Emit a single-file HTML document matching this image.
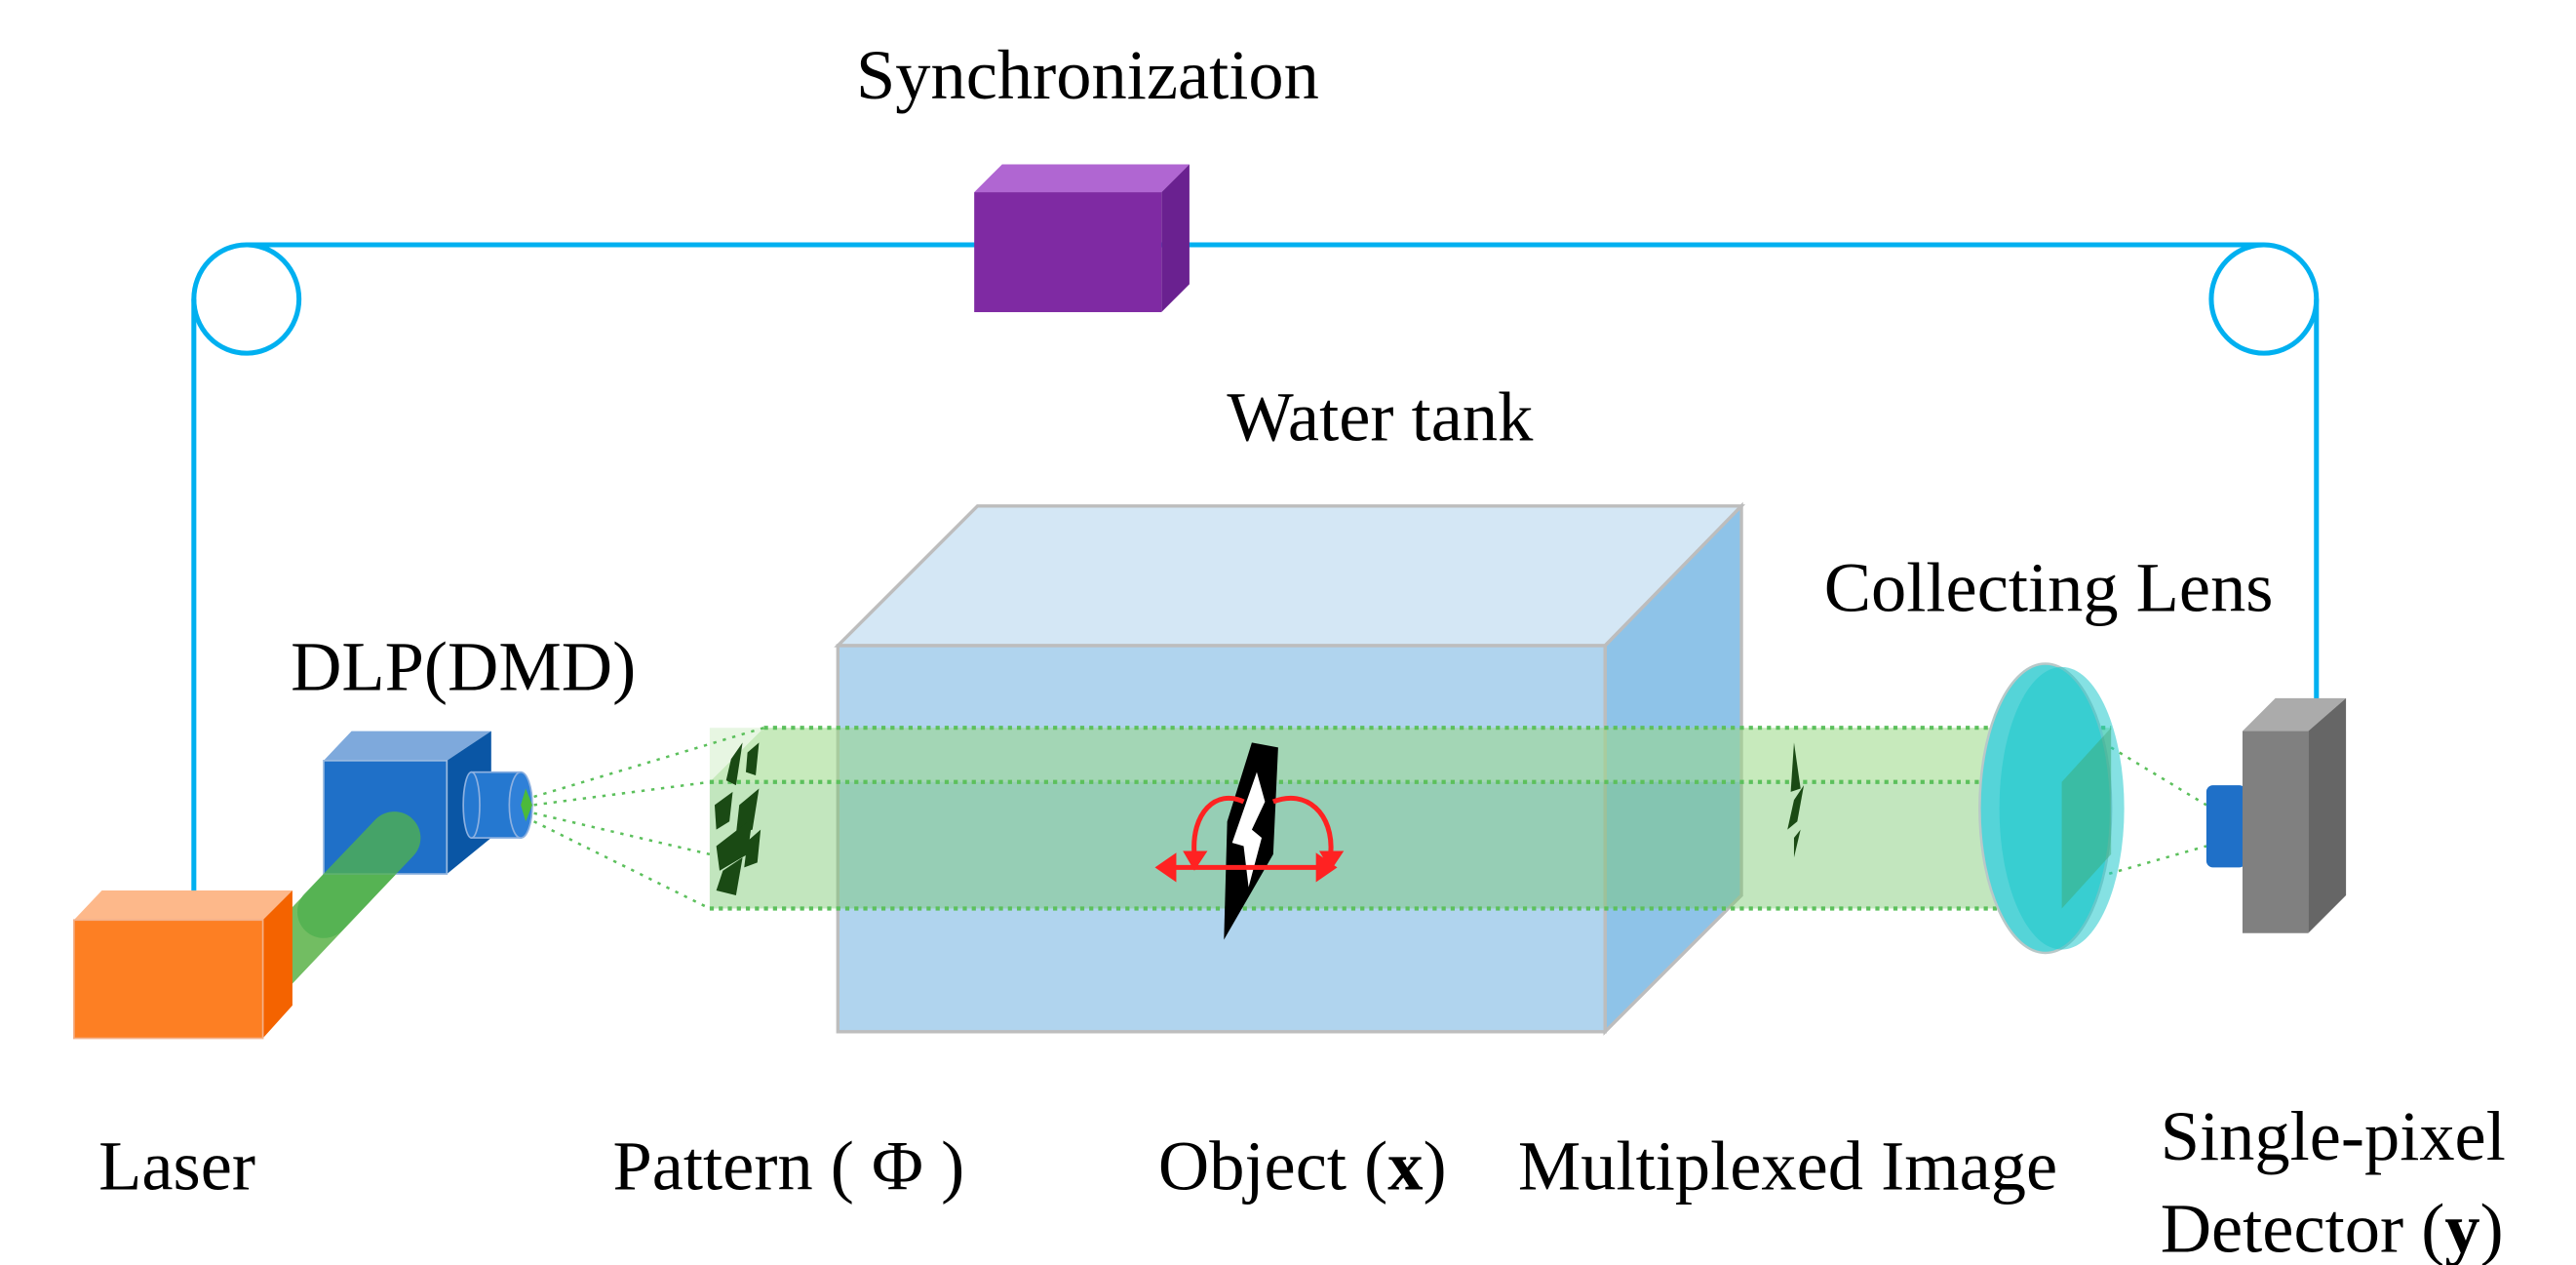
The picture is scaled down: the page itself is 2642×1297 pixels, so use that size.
<!DOCTYPE html>
<html><head><meta charset="utf-8"><style>html,body{margin:0;padding:0;background:#fff}svg{display:block}</style></head>
<body>
<svg width="2642" height="1297" viewBox="0 0 1568 770" preserveAspectRatio="none" xmlns="http://www.w3.org/2000/svg" font-family="Liberation Serif, serif" font-size="43" fill="#000">
<!-- sync wiring -->
<g stroke="#00b0f0" stroke-width="3" fill="none">
<line x1="150" y1="149" x2="1378" y2="149"/>
<ellipse cx="150" cy="182" rx="32" ry="33"/>
<ellipse cx="1378" cy="182" rx="32" ry="33"/>
<line x1="118" y1="182" x2="118" y2="545"/>
<line x1="1410" y1="182" x2="1410" y2="427"/>
</g>
<text x="662" y="60" text-anchor="middle">Synchronization</text>
<!-- purple box -->
<polygon points="593,117 610,100 724,100 707,117" fill="#b066d2"/>
<polygon points="707,117 724,100 724,173 707,190" fill="#6a2190"/>
<rect x="593" y="117" width="114" height="73" fill="#7f2aa3"/>
<text x="840" y="268" text-anchor="middle">Water tank</text>
<!-- tank -->
<polygon points="510,393 595,308 1060,308 977,393" fill="#d4e7f5" stroke="#bdbdbd" stroke-width="2"/>
<polygon points="977,393 1060,308 1060,545 977,628" fill="#8ec3e8" stroke="#bdbdbd" stroke-width="2"/>
<rect x="510" y="393" width="467" height="235" fill="#b0d4ee" stroke="#bdbdbd" stroke-width="2"/>
<!-- beam -->
<polygon points="432,476 465,443 1285,443 1255,476" fill="rgba(150,215,130,0.4)"/>
<rect x="432" y="476" width="823" height="77" fill="rgba(120,200,110,0.45)"/>
<polygon points="432,443 1285,443 1285,476 432,476" fill="rgba(160,220,140,0.25)"/>
<g stroke="#5cc05c" stroke-width="2.5" stroke-dasharray="2.5,3" fill="none">
<line x1="465" y1="443" x2="1285" y2="443"/>
<line x1="432" y1="476" x2="1255" y2="476"/>
<line x1="432" y1="553" x2="1255" y2="553"/>
</g>
<g stroke="#5cc05c" stroke-width="1.5" stroke-dasharray="2,4" fill="none">
<line x1="325" y1="485" x2="465" y2="443"/>
<line x1="325" y1="490" x2="432" y2="476"/>
<line x1="325" y1="495" x2="432" y2="520"/>
<line x1="325" y1="500" x2="432" y2="553"/>
<line x1="1285" y1="455" x2="1343" y2="490"/>
<line x1="1255" y1="540" x2="1343" y2="515"/>
</g>
<!-- pattern -->
<g fill="#1a4a14">
<polygon points="445,462 452,452 448,478 442,475"/><polygon points="455,458 462,452 460,472 454,470"/>
<polygon points="435,490 446,482 444,500 436,505"/><polygon points="450,490 462,480 458,505 448,508"/>
<polygon points="436,515 458,498 455,520 438,530"/><polygon points="440,530 452,522 448,545 436,542"/>
<polygon points="455,512 463,505 461,525 453,528"/>
</g>
<!-- object -->
<polygon points="762,452 778,455 775,520 745,572 747,500" fill="#000"/>
<polygon points="765,470 770,488 762,505 768,510 760,540 757,515 750,513" fill="#fff"/>
<g stroke="#f22" stroke-width="3" fill="none">
<path d="M757,488 C740,480 725,495 727,520"/>
<path d="M775,488 C795,480 812,495 810,520"/>
<line x1="712" y1="528" x2="805" y2="528"/>
</g>
<g fill="#f22">
<polygon points="720,518 735,518 727,530"/><polygon points="803,518 818,518 810,530"/>
<polygon points="703,528 716,519 716,537"/><polygon points="814,528 801,519 801,537"/>
</g>
<!-- multiplexed -->
<g fill="#1a4a14"><polygon points="1092,452 1096,480 1090,482"/><polygon points="1092,487 1098,478 1094,500 1088,505"/><polygon points="1092,510 1096,505 1092,522"/></g>
<!-- lens -->
<ellipse cx="1245" cy="492" rx="40" ry="88" fill="#55d4d8" stroke="#b8c8c8" stroke-width="1.5"/>
<ellipse cx="1255" cy="492" rx="38" ry="86" fill="#20c8cc" opacity="0.55"/>
<polygon points="1255,476 1285,443 1285,520 1255,553" fill="rgba(60,170,120,0.5)"/>
<text x="1247" y="372" text-anchor="middle">Collecting Lens</text>
<!-- detector -->
<rect x="1343" y="478" width="24" height="50" rx="4" fill="#1f70c8"/>
<polygon points="1365,445 1385,425 1428,425 1405,445" fill="#ababab"/>
<polygon points="1405,445 1428,425 1428,545 1405,568" fill="#666"/>
<rect x="1365" y="445" width="40" height="123" fill="#808080"/>
<!-- green beam laser->DLP (behind laser) -->
<line x1="150" y1="605" x2="240" y2="510" stroke="#72bd62" stroke-width="32" stroke-linecap="round"/>
<!-- DLP -->
<text x="282" y="420" text-anchor="middle">DLP(DMD)</text>
<polygon points="197,463 214,445 299,445 272,463" fill="#7ea9dc"/>
<polygon points="272,463 299,445 299,510 272,532" fill="#0a56a5"/>
<rect x="197" y="463" width="75" height="69" fill="#1f70c8" stroke="#9bbbe0" stroke-width="1"/>
<rect x="287" y="470" width="30" height="40" fill="#2578d0" stroke="#8cb0e0" stroke-width="1"/>
<ellipse cx="287" cy="490" rx="5" ry="20" fill="#2578d0" stroke="#8cb0e0" stroke-width="1"/>
<ellipse cx="317" cy="490" rx="7" ry="20" fill="#2f80d8" stroke="#8cb0e0" stroke-width="1"/>
<polygon points="320,480 324,490 320,500 317,490" fill="#4cba3a"/>
<line x1="197" y1="555" x2="240" y2="510" stroke="#4fb050" stroke-opacity="0.8" stroke-width="32" stroke-linecap="round"/>
<!-- laser -->
<polygon points="45,560 62,542 178,542 160,560" fill="#fdb88a"/>
<polygon points="160,560 178,542 178,612 160,632" fill="#f46300"/>
<rect x="45" y="560" width="115" height="72" fill="#fd7f23" stroke="#f3b08a" stroke-width="1"/>
<!-- labels -->
<text x="60" y="724">Laser</text>
<text x="373" y="724">Pattern ( Φ )</text>
<text x="705" y="724">Object (<tspan font-weight="bold">x</tspan>)</text>
<text x="924" y="724">Multiplexed Image</text>
<text x="1315" y="706">Single-pixel</text>
<text x="1315" y="762">Detector (<tspan font-weight="bold">y</tspan>)</text>
</svg>
</body></html>
